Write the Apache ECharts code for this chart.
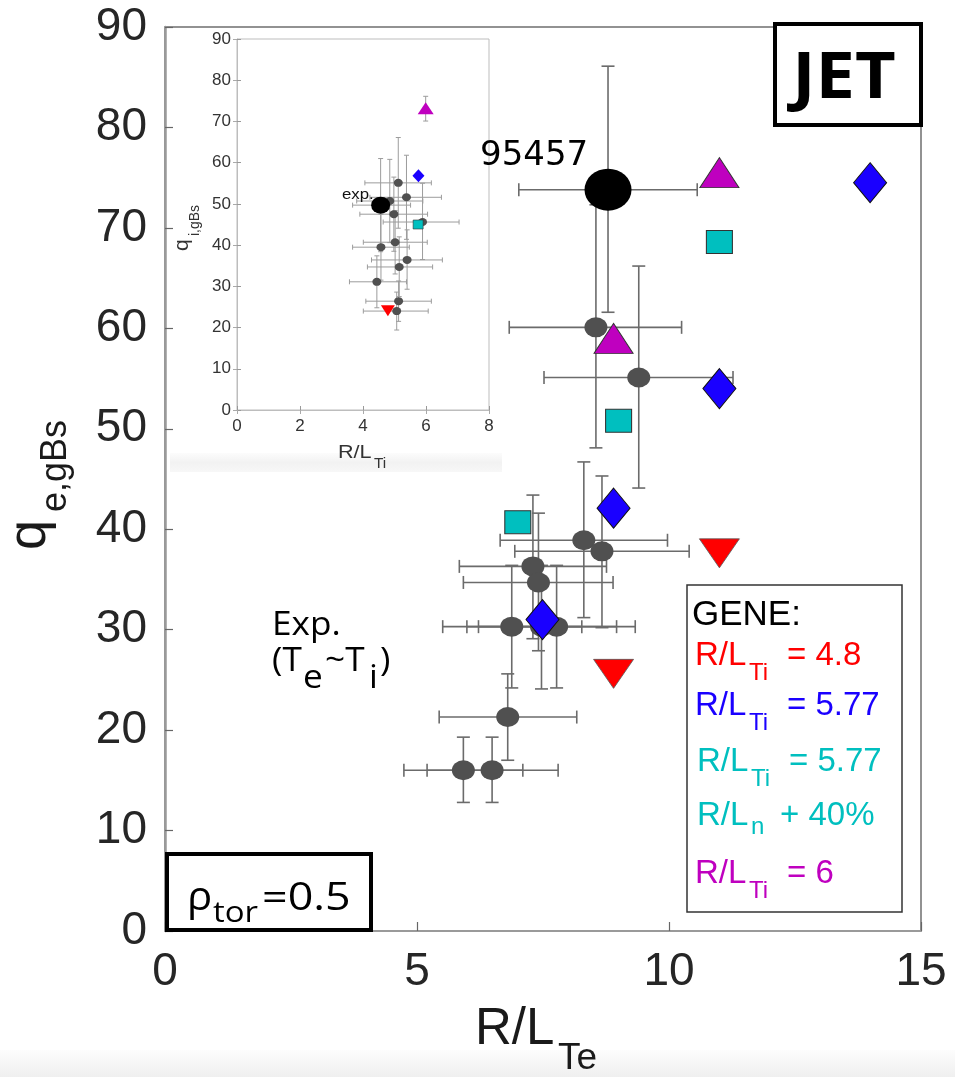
<!DOCTYPE html>
<html>
<head>
<meta charset="utf-8">
<script src="https://cdn.jsdelivr.net/npm/echarts@6/dist/echarts.min.js"></script>
<style>
  html, body { margin: 0; padding: 0; background: #ffffff; }
  #chart { width: 955px; height: 1077px; }
</style>
</head>
<body>
<div id="chart"></div>
<script>
// ---------- Main panel: electron heat flux vs R/L_Te ----------
// Experimental profile points (R/L_Te, q_e,gBs) with error ranges
const expRLTe   = [8.55, 9.40, 8.31, 8.67, 7.30, 7.41, 6.88, 7.47, 7.77, 6.80, 5.92, 6.49];
const expQe     = [60.1, 55.1, 38.9, 37.8, 36.3, 34.7, 30.3, 30.3, 30.3, 21.3, 16.0, 16.0];
const expRLTeLo = [6.83, 7.52, 6.65, 6.94, 5.84, 5.92, 5.51, 5.99, 6.22, 5.44, 4.74, 5.20];
const expRLTeHi = [10.25, 11.27, 9.97, 10.40, 8.76, 8.89, 8.27, 8.96, 9.33, 8.17, 7.10, 7.80];
const expQeLo   = [48.1, 44.1, 31.2, 30.2, 29.1, 27.9, 24.2, 24.1, 24.2, 17.0, 12.8, 12.8];
const expQeHi   = [72.3, 66.2, 46.7, 45.3, 43.4, 41.6, 36.4, 36.4, 36.4, 25.6, 19.3, 19.3];

// Shot 95457 reference point
const shotRLTe = [8.79];
const shotQe   = [73.8];
const shotRLTeRange = [7.02, 10.56];
const shotQeRange   = [61.6, 86.1];

// GENE scans
const geneRedRLTe  = [8.9, 11.0];
const geneRedQe    = [25.6, 37.6];
const geneBlueRLTe = [7.49, 8.9, 11.0, 13.99];
const geneBlueQe   = [31.0, 42.1, 54.0, 74.5];
const geneCyanRLTe = [7.0, 9.0, 11.0];
const geneCyanQe   = [40.7, 50.8, 68.6];
const geneMagRLTe  = [8.9, 11.0];
const geneMagQe    = [59.0, 75.5];

// ---------- Inset: ion heat flux vs R/L_Ti ----------
const insRLTi   = [5.12, 5.38, 4.85, 4.98, 5.89, 5.02, 4.57, 5.40, 5.15, 4.44, 5.13, 5.07];
const insQi     = [55.1, 51.6, 50.7, 47.5, 45.6, 40.7, 39.5, 36.4, 34.7, 31.1, 26.4, 24.0];
const insRLTiLo = [4.06, 4.22, 3.80, 3.90, 4.64, 4.01, 3.67, 4.27, 4.14, 3.57, 4.09, 4.01];
const insRLTiHi = [6.17, 6.49, 5.90, 6.05, 7.05, 6.04, 5.47, 6.52, 6.21, 5.38, 6.17, 6.07];
const insQiLo   = [44.1, 41.4, 40.6, 38.5, 36.5, 33.0, 31.5, 29.3, 27.5, 24.8, 21.5, 19.4];
const insQiHi   = [66.1, 61.8, 60.8, 56.5, 55.0, 48.4, 47.5, 43.7, 42.0, 37.4, 31.3, 28.6];

const insExpRLTi = [4.56];
const insExpQi   = [49.7];
const insExpRLTiRange = [3.67, 5.51];
const insExpQiRange   = [38.4, 61.0];

const insRedRLTi  = [4.79];
const insRedQi    = [24.1];
const insBlueRLTi = [5.76];
const insBlueQi   = [56.8];
const insCyanRLTi = [5.75];
const insCyanQi   = [45.0];
const insMagRLTi  = [5.99];
const insMagQi    = [73.2];
const insMagQiRange = [70.1, 76.1];

// ---------- colours ----------
const C_RED = '#ff0000';
const C_BLUE = '#1a00ff';
const C_CYAN = '#00bfbf';
const C_MAG = '#bf00bf';
const C_GRAY = '#505050';

// rows: [x, y, xlo, xhi, ylo, yhi]
function rows(x, y, xlo, xhi, ylo, yhi) {
  return x.map((v, i) => [v, y[i], xlo[i], xhi[i], ylo[i], yhi[i]]);
}
function pts(x, y) { return x.map((v, i) => [v, y[i]]); }

const mainErrRows = rows(expRLTe, expQe, expRLTeLo, expRLTeHi, expQeLo, expQeHi)
  .concat([[shotRLTe[0], shotQe[0], shotRLTeRange[0], shotRLTeRange[1], shotQeRange[0], shotQeRange[1]]]);
const insErrRows = rows(insRLTi, insQi, insRLTiLo, insRLTiHi, insQiLo, insQiHi)
  .concat([[insExpRLTi[0], insExpQi[0], insExpRLTiRange[0], insExpRLTiRange[1], insExpQiRange[0], insExpQiRange[1]]])
  .concat([[insMagRLTi[0], insMagQi[0], insMagRLTi[0], insMagRLTi[0], insMagQiRange[0], insMagQiRange[1]]]);

// error bar renderer with end caps
function errorBars(cap, color, width) {
  return function (params, api) {
    const x = api.value(0), y = api.value(1);
    const xlo = api.value(2), xhi = api.value(3), ylo = api.value(4), yhi = api.value(5);
    const st = { stroke: color, lineWidth: width };
    const h = cap / 2;
    const kids = [];
    if (xhi > xlo) {
      const l = api.coord([xlo, y]), r = api.coord([xhi, y]);
      kids.push({ type: 'line', shape: { x1: l[0], y1: l[1], x2: r[0], y2: r[1] }, style: st });
      kids.push({ type: 'line', shape: { x1: l[0], y1: l[1] - h, x2: l[0], y2: l[1] + h }, style: st });
      kids.push({ type: 'line', shape: { x1: r[0], y1: r[1] - h, x2: r[0], y2: r[1] + h }, style: st });
    }
    if (yhi > ylo) {
      const b = api.coord([x, ylo]), t = api.coord([x, yhi]);
      kids.push({ type: 'line', shape: { x1: b[0], y1: b[1], x2: t[0], y2: t[1] }, style: st });
      kids.push({ type: 'line', shape: { x1: b[0] - h, y1: b[1], x2: b[0] + h, y2: b[1] }, style: st });
      kids.push({ type: 'line', shape: { x1: t[0] - h, y1: t[1], x2: t[0] + h, y2: t[1] }, style: st });
    }
    return { type: 'group', children: kids };
  };
}

function scatter(name, data, xi, symbol, size, color, border, borderWidth, extra) {
  return Object.assign({
    name, type: 'scatter', xAxisIndex: xi, yAxisIndex: xi,
    data, symbol, symbolSize: size,
    itemStyle: { color: color, opacity: 1, borderColor: border || color, borderWidth: borderWidth || 0 },
    emphasis: { disabled: true }, z: 5
  }, extra || {});
}

// text helper: x = left edge, y = vertical middle
function txt(x, y, str, fs, color, family, weight, sx) {
  return {
    type: 'text', x: x, y: y, scaleX: sx || 1, z: 100,
    style: {
      x: 0, y: 0, text: str, fill: color || '#000',
      fontSize: fs, fontFamily: family || 'Liberation Sans', fontWeight: weight || 'normal',
      align: 'left', verticalAlign: 'middle', textAlign: 'left', textVerticalAlign: 'middle'
    }
  };
}
const SANS = 'Liberation Sans';
const HUM = 'Open Sans';

const chart = echarts.init(document.getElementById('chart'), null, { renderer: 'canvas' });

const mainAxisLabel = { fontSize: 46, color: '#262626', fontFamily: SANS, margin: 18 };
const insAxisLabel = { fontSize: 17, color: '#333', fontFamily: SANS };

const option = {
  animation: false,
  backgroundColor: '#ffffff',
  grid: [
    { left: 165, top: 27, width: 756, height: 904, show: true, borderColor: '#6f6f6f', borderWidth: 1.5, backgroundColor: 'transparent' },
    { left: 237, top: 39, width: 252, height: 371, show: true, borderColor: '#bdbdbd', borderWidth: 1, backgroundColor: 'transparent' }
  ],
  xAxis: [
    { gridIndex: 0, type: 'value', min: 0, max: 15, interval: 5,
      axisLine: { show: true, lineStyle: { color: '#9a9a9a', width: 2 } },
      axisTick: { show: true, inside: true, length: 9, lineStyle: { color: '#666', width: 1.2 } },
      axisLabel: Object.assign({}, mainAxisLabel, { margin: 18 }), splitLine: { show: false } },
    { gridIndex: 1, type: 'value', min: 0, max: 8, interval: 2,
      axisLine: { show: true, lineStyle: { color: '#bdbdbd', width: 1 } },
      axisTick: { show: true, inside: true, length: 4, lineStyle: { color: '#999' } },
      axisLabel: Object.assign({}, insAxisLabel, { margin: 8 }), splitLine: { show: false } },
    { gridIndex: 1, type: 'value', min: 0, max: 8, interval: 2, position: 'top',
      axisLine: { show: false }, axisLabel: { show: false }, splitLine: { show: false },
      axisTick: { show: true, inside: true, length: 4, lineStyle: { color: '#aaa' } } }
  ],
  yAxis: [
    { gridIndex: 0, type: 'value', min: 0, max: 90, interval: 10,
      axisLine: { show: true, lineStyle: { color: '#9a9a9a', width: 2.5 } },
      axisTick: { show: true, inside: true, length: 8, lineStyle: { color: '#666', width: 1.2 } },
      axisLabel: Object.assign({}, mainAxisLabel, { margin: 18 }), splitLine: { show: false } },
    { gridIndex: 1, type: 'value', min: 0, max: 90, interval: 10,
      axisLine: { show: true, lineStyle: { color: '#bdbdbd', width: 1 } },
      axisTick: { show: true, inside: true, length: 4, lineStyle: { color: '#999' } },
      axisLabel: Object.assign({}, insAxisLabel, { margin: 6 }), splitLine: { show: false } },
    { gridIndex: 1, type: 'value', min: 0, max: 90, interval: 10, position: 'right',
      axisLine: { show: false }, axisLabel: { show: false }, splitLine: { show: false },
      axisTick: { show: true, inside: true, length: 4, lineStyle: { color: '#aaa' } } }
  ],
  series: [
    // main panel
    { type: 'custom', name: 'exp-err', xAxisIndex: 0, yAxisIndex: 0, data: mainErrRows,
      renderItem: errorBars(13, '#6b6b6b', 1.6), encode: { x: 0, y: 1 }, z: 1, silent: true },
    scatter('exp', pts(expRLTe, expQe), 0, 'circle', [23, 20], C_GRAY),
    scatter('95457', pts(shotRLTe, shotQe), 0, 'circle', [47, 42], '#000000', null, 0, { z: 6 }),
    scatter('GENE red', pts(geneRedRLTe, geneRedQe), 0, 'triangle', [40, 29], C_RED, '#555', 0.8,
      { symbolRotate: 180, z: 7 }),
    scatter('GENE blue', pts(geneBlueRLTe, geneBlueQe), 0, 'diamond', [33, 40], C_BLUE, '#111', 1, { z: 7 }),
    scatter('GENE cyan', pts(geneCyanRLTe, geneCyanQe), 0, 'rect', [26, 23], C_CYAN, '#333', 1, { z: 7 }),
    scatter('GENE magenta', pts(geneMagRLTe, geneMagQe), 0, 'triangle', [39, 30], C_MAG, '#333', 1, { z: 7 }),
    // inset
    { type: 'custom', name: 'ins-err', xAxisIndex: 1, yAxisIndex: 1, data: insErrRows,
      renderItem: errorBars(5, '#9c9c9c', 1), encode: { x: 0, y: 1 }, z: 1, silent: true },
    scatter('ins exp', pts(insRLTi, insQi), 1, 'circle', [9, 8], C_GRAY),
    scatter('ins shot', pts(insExpRLTi, insExpQi), 1, 'circle', [19, 17], '#000000', null, 0, { z: 6 }),
    scatter('ins red', pts(insRedRLTi, insRedQi), 1, 'triangle', [14, 11], C_RED, null, 0,
      { symbolRotate: 180, z: 7 }),
    scatter('ins blue', pts(insBlueRLTi, insBlueQi), 1, 'diamond', [12, 13], C_BLUE, null, 0, { z: 7 }),
    scatter('ins cyan', pts(insCyanRLTi, insCyanQi), 1, 'rect', [10, 9], C_CYAN, '#333', 0.6, { z: 7 }),
    scatter('ins magenta', pts(insMagRLTi, insMagQi), 1, 'triangle', [16, 12], C_MAG, null, 0, { z: 7 })
  ],
  graphic: [
    // soft band under the inset and at the page foot
    { type: 'rect', z: -1, shape: { x: 170, y: 453, width: 332, height: 19 },
      style: { fill: { type: 'linear', x: 0, y: 0, x2: 0, y2: 1,
        colorStops: [{ offset: 0, color: '#fcfcfc' }, { offset: 0.5, color: '#f2f2f2' }, { offset: 1, color: '#f7f7f7' }] } } },
    { type: 'rect', z: -1, shape: { x: 0, y: 1050, width: 955, height: 27 },
      style: { fill: { type: 'linear', x: 0, y: 0, x2: 0, y2: 1,
        colorStops: [{ offset: 0, color: '#fdfdfd' }, { offset: 1, color: '#efefef' }] } } },

    // axis titles (main)
    txt(475, 1030, 'R/L', 51, '#1a1a1a', SANS),
    txt(558, 1059, 'Te', 37, '#1a1a1a', SANS),
    { type: 'group', x: 30, y: 550, rotation: Math.PI / 2, z: 100, children: [
      txt(0, 0, 'q', 54, '#1a1a1a', SANS),
      txt(38, 26, 'e,gBs', 36, '#1a1a1a', SANS)
    ] },

    // axis titles (inset)
    txt(338, 453, 'R/L', 18, '#333', SANS, 'normal', 1.2),
    txt(374, 464, 'Ti', 14, '#333', SANS, 'normal', 1.1),
    { type: 'group', x: 182, y: 251, rotation: Math.PI / 2, z: 100, children: [
      txt(0, 0, 'q', 21, '#333', SANS),
      txt(15, 13, 'i,gBs', 14, '#333', SANS)
    ] },
    txt(342, 195, 'exp.', 14, '#111', SANS, 'normal', 1.2),

    // shot number
    txt(480, 156, '95457', 34, '#000', 'DejaVu Sans'),

    // experiment note
    txt(272, 626, 'Exp.', 32, '#000', HUM, 'normal', 1.1),
    txt(272, 662, '(T', 32, '#000', HUM, 'normal', 1.1),
    txt(303, 679, 'e', 32, '#000', HUM, 'normal', 1.1),
    txt(325, 662, '~T', 32, '#000', HUM, 'normal', 1.1),
    txt(369, 679, 'i', 32, '#000', HUM, 'normal', 1.1),
    txt(380, 662, ')', 32, '#000', HUM, 'normal', 1.1),

    // JET box
    { type: 'rect', z: 100, shape: { x: 775, y: 24, width: 146, height: 101 },
      style: { fill: '#fff', stroke: '#000', lineWidth: 4 } },
    { type: 'text', x: 844, y: 80, z: 101, scaleX: 1.1, style: { x: 0, y: 0, text: 'JET', fontSize: 64, fontWeight: 'bold',
      fontFamily: HUM, fill: '#000', align: 'center', verticalAlign: 'middle', textAlign: 'center', textVerticalAlign: 'middle' } },

    // rho_tor box
    { type: 'rect', z: 100, shape: { x: 167, y: 854, width: 204, height: 76 },
      style: { fill: '#fff', stroke: '#000', lineWidth: 4 } },
    txt(187, 899, 'ρ', 40, '#000', HUM, 'normal', 1.05),
    txt(213, 913, 'tor', 30, '#000', HUM, 'normal', 1.1),
    txt(262, 899, '=0.5', 38, '#000', HUM, 'normal', 1.18),

    // GENE legend box
    { type: 'rect', z: 100, shape: { x: 687, y: 585, width: 215, height: 327 },
      style: { fill: '#fff', stroke: '#333', lineWidth: 1.5 } },
    txt(692, 615, 'GENE:', 35, '#000', SANS),

    txt(695, 656, 'R/L', 33, C_RED, SANS),
    txt(749, 673, 'Ti', 24, C_RED, SANS),
    txt(787, 656, '= 4.8', 33, C_RED, SANS),

    txt(695, 706, 'R/L', 33, C_BLUE, SANS),
    txt(749, 723, 'Ti', 24, C_BLUE, SANS),
    txt(787, 706, '= 5.77', 33, C_BLUE, SANS),

    txt(697, 762, 'R/L', 33, C_CYAN, SANS),
    txt(751, 779, 'Ti', 24, C_CYAN, SANS),
    txt(789, 762, '= 5.77', 33, C_CYAN, SANS),

    txt(697, 816, 'R/L', 33, C_CYAN, SANS),
    txt(751, 827, 'n', 24, C_CYAN, SANS),
    txt(780, 816, '+ 40%', 33, C_CYAN, SANS),

    txt(695, 874, 'R/L', 33, C_MAG, SANS),
    txt(749, 891, 'Ti', 24, C_MAG, SANS),
    txt(787, 874, '= 6', 33, C_MAG, SANS)
  ]
};

chart.setOption(option);
</script>
</body>
</html>
